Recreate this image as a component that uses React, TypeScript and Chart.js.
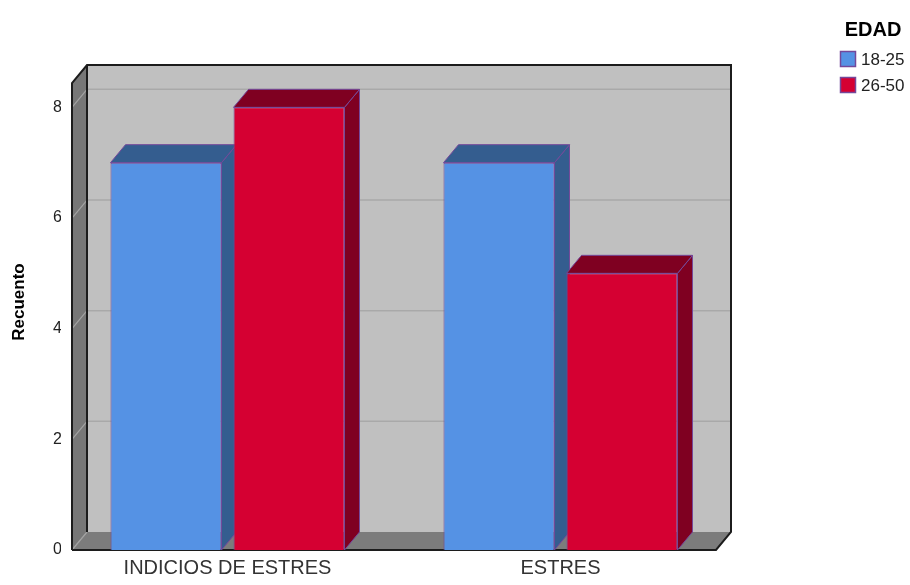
import React, { useEffect, useRef } from "react";
import { Chart, registerables } from "chart.js";

Chart.register(...registerables);

// Data
const categories = ["INDICIOS DE ESTRES", "ESTRES"];
const seriesNames = ["18-25", "26-50"];
const counts1825 = [7, 7];
const counts2650 = [8, 5];
const yTicks = [0, 2, 4, 6, 8];
const yMax = 8.44;
const legendTitle = "EDAD";
const yTitle = "Recuento";

// Styling
const FONT = "'Liberation Sans', Arial, Helvetica, sans-serif";
const DEPTH_X = 15;
const DEPTH_Y = -18;
const BOX_INSET = 11;
const frontColors = ["#5592e4", "#d50032"];
const shadeColors = ["#345d8f", "#7f0021"];
const edgeColor = "#74489a";

type Pt = [number, number];

function fillPoly(ctx: CanvasRenderingContext2D, pts: Pt[], fill: string, stroke?: string, lw = 1) {
  ctx.beginPath();
  ctx.moveTo(pts[0][0], pts[0][1]);
  for (let i = 1; i < pts.length; i++) ctx.lineTo(pts[i][0], pts[i][1]);
  ctx.closePath();
  ctx.fillStyle = fill;
  ctx.fill();
  if (stroke) {
    ctx.strokeStyle = stroke;
    ctx.lineWidth = lw;
    ctx.stroke();
  }
}

function seg(ctx: CanvasRenderingContext2D, x1: number, y1: number, x2: number, y2: number) {
  ctx.beginPath();
  ctx.moveTo(x1, y1);
  ctx.lineTo(x2, y2);
  ctx.stroke();
}

// Draws the 3D box (back wall, side wall, floor) and the depth faces of each bar
const box3d = {
  id: "box3d",
  beforeDatasetsDraw(chart: any) {
    const { ctx, chartArea: a, scales } = chart;
    const y = scales.y;
    const L = a.left + BOX_INSET;
    const R = a.right - BOX_INSET;
    const T = a.top;
    const B = a.bottom;
    const dx = DEPTH_X;
    const dy = DEPTH_Y;
    ctx.save();

    // back wall
    ctx.fillStyle = "#c0c0c0";
    ctx.fillRect(L + dx, T + dy, R - L, B - T);
    ctx.strokeStyle = "#a9a9a9";
    ctx.lineWidth = 1.5;
    for (const v of yTicks) {
      if (v === 0) continue;
      const py = y.getPixelForValue(v) + dy;
      seg(ctx, L + dx, py, R + dx, py);
    }

    // left wall and floor
    fillPoly(ctx, [[L, T], [L + dx, T + dy], [L + dx, B + dy], [L, B]], "#777777");
    fillPoly(ctx, [[L, B], [L + dx, B + dy], [R + dx, B + dy], [R, B]], "#7c7c7c");
    ctx.strokeStyle = "#a3a3a3";
    ctx.lineWidth = 1.2;
    for (const v of yTicks) {
      const py = y.getPixelForValue(v);
      seg(ctx, L, py, L + dx, py + dy);
    }

    // box edges
    ctx.strokeStyle = "#1c1c1c";
    ctx.lineWidth = 2;
    ctx.lineJoin = "miter";
    seg(ctx, L + dx, T + dy, L + dx, B + dy);
    ctx.beginPath();
    ctx.moveTo(L, B);
    ctx.lineTo(L, T);
    ctx.lineTo(L + dx, T + dy);
    ctx.lineTo(R + dx, T + dy);
    ctx.lineTo(R + dx, B + dy);
    ctx.lineTo(R, B);
    ctx.lineTo(L, B);
    ctx.stroke();

    // depth faces of the bars, left to right
    const bars: { x1: number; x2: number; top: number; base: number; ds: number }[] = [];
    chart.data.datasets.forEach((_: any, di: number) => {
      const meta = chart.getDatasetMeta(di);
      if (meta.hidden) return;
      meta.data.forEach((el: any) => {
        const p = el.getProps(["x", "y", "base", "width"], true);
        bars.push({ x1: p.x - p.width / 2, x2: p.x + p.width / 2, top: p.y, base: p.base, ds: di });
      });
    });
    bars.sort((p, q) => p.x1 - q.x1);
    for (const b of bars) {
      const shade = shadeColors[b.ds];
      fillPoly(ctx, [[b.x2, b.top], [b.x2 + dx, b.top + dy], [b.x2 + dx, b.base + dy], [b.x2, b.base]], shade, edgeColor, 1);
      fillPoly(ctx, [[b.x1, b.top], [b.x1 + dx, b.top + dy], [b.x2 + dx, b.top + dy], [b.x2, b.top]], shade, edgeColor, 1);
    }
    ctx.restore();
  },
};

// Axis title and legend
const annotations = {
  id: "annotations",
  afterDraw(chart: any) {
    const { ctx } = chart;
    ctx.save();
    ctx.fillStyle = "#000000";
    ctx.font = `bold 17px ${FONT}`;
    ctx.textAlign = "center";
    ctx.textBaseline = "middle";
    ctx.translate(19, 302);
    ctx.rotate(-Math.PI / 2);
    ctx.fillText(yTitle, 0, 0);
    ctx.restore();

    ctx.save();
    ctx.fillStyle = "#000000";
    ctx.font = `bold 20px ${FONT}`;
    ctx.textAlign = "center";
    ctx.textBaseline = "middle";
    ctx.fillText(legendTitle, 873, 30);
    ctx.font = `17px ${FONT}`;
    ctx.textAlign = "left";
    chart.data.datasets.forEach((ds: any, i: number) => {
      const top = 51 + i * 26;
      ctx.fillStyle = ds.backgroundColor;
      ctx.fillRect(840, top, 16, 16);
      ctx.strokeStyle = edgeColor;
      ctx.lineWidth = 1.5;
      ctx.strokeRect(840.5, top + 0.5, 15, 15);
      ctx.fillStyle = "#222222";
      ctx.fillText(ds.label, 861, top + 9);
    });
    ctx.restore();
  },
};

export default function App() {
  const canvasRef = useRef<HTMLCanvasElement | null>(null);

  useEffect(() => {
    const canvas = canvasRef.current;
    if (!canvas) return;
    const chart = new Chart(canvas, {
      type: "bar",
      data: {
        labels: categories,
        datasets: [
          {
            label: seriesNames[0],
            data: counts1825,
            backgroundColor: frontColors[0],
            borderColor: edgeColor,
            borderWidth: 1,
          },
          {
            label: seriesNames[1],
            data: counts2650,
            backgroundColor: frontColors[1],
            borderColor: edgeColor,
            borderWidth: 1,
          },
        ],
      },
      options: {
        responsive: false,
        animation: false,
        devicePixelRatio: 1,
        layout: { padding: { top: 83, right: 183, bottom: 0, left: 0 } },
        datasets: {
          bar: { categoryPercentage: 0.739, barPercentage: 0.902 },
        },
        plugins: {
          legend: { display: false },
          tooltip: { enabled: false },
        },
        scales: {
          x: {
            type: "category",
            grid: { display: false, drawTicks: false },
            border: { display: false },
            ticks: {
              color: "#333333",
              font: { family: FONT, size: 20 },
              padding: 6,
              maxRotation: 0,
              autoSkip: false,
            },
            afterFit: (s: any) => {
              s.height = 35;
            },
          },
          y: {
            min: 0,
            max: yMax,
            grid: { display: false, drawTicks: false },
            border: { display: false },
            ticks: {
              color: "#222222",
              font: { family: FONT, size: 16 },
              padding: -1,
            },
            afterBuildTicks: (s: any) => {
              s.ticks = yTicks.map((v) => ({ value: v }));
            },
            afterFit: (s: any) => {
              s.width = 61;
            },
          },
        },
      },
      plugins: [box3d, annotations],
    });
    return () => chart.destroy();
  }, []);

  return (
    <div style={{ position: "fixed", left: 0, top: 0, width: 910, height: 585, background: "#ffffff" }}>
      <canvas ref={canvasRef} width={910} height={585} style={{ display: "block" }} />
    </div>
  );
}
